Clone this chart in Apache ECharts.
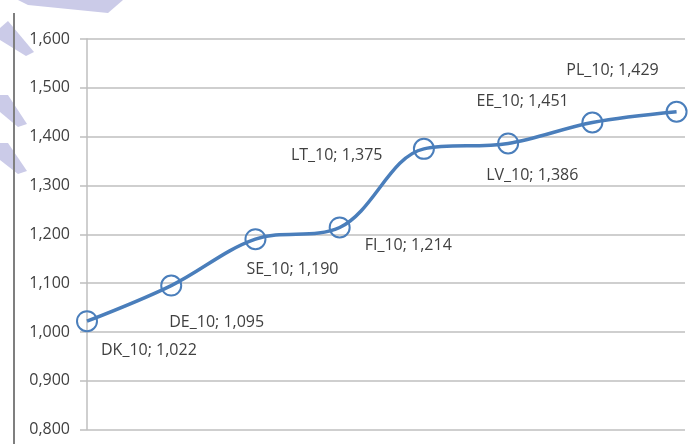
<!DOCTYPE html>
<html>
<head>
<meta charset="utf-8">
<script src="https://cdn.jsdelivr.net/npm/echarts@6/dist/echarts.min.js"></script>
<style>html,body{margin:0;padding:0;background:#fff;}#c{width:688px;height:444px;}</style>
</head>
<body>
<div id="c"></div>
<script>
// Data
const categories = ['DK_10', 'DE_10', 'SE_10', 'FI_10', 'LT_10', 'LV_10', 'PL_10', 'EE_10'];
const values = [1.022, 1.095, 1.190, 1.214, 1.375, 1.386, 1.429, 1.451];
const yTicks = [0.8, 0.9, 1.0, 1.1, 1.2, 1.3, 1.4, 1.5, 1.6];

// Label placement (pixel offsets from each point)
const labelOffsets = [[15, 30], [-1, 38], [-8, 31], [26, 19], [-132, 8], [-21, 33], [-25, -51], [-199, -9]];

const fmt = v => v.toFixed(3).replace('.', ',');
const FONT = 'Open Sans';
const TXT = '#404040';
const BLUE = '#4a7ebb';
const GRID = '#bfbfbf';
const WM = '#cbcbe8';

const seriesData = values.map((v, i) => ({
  value: [i, v],
  label: {
    position: [labelOffsets[i][0] + 10, labelOffsets[i][1] + 10]
  }
}));

const chart = echarts.init(document.getElementById('c'), null, {renderer: 'canvas'});
chart.setOption({
  animation: false,
  backgroundColor: '#fff',
  grid: {left: 87, right: 3, top: 39, bottom: 14.4, containLabel: false},
  xAxis: {
    type: 'value', min: 0, max: 7.1,
    axisLine: {show: false}, axisTick: {show: false}, axisLabel: {show: false}, splitLine: {show: false}
  },
  yAxis: {
    type: 'value', min: yTicks[0], max: yTicks[yTicks.length - 1], interval: 0.1,
    axisLine: {show: true, lineStyle: {color: GRID, width: 1.5}},
    axisTick: {show: true, length: 7, lineStyle: {color: GRID, width: 1.5}},
    splitLine: {show: true, lineStyle: {color: GRID, width: 1.5}},
    axisLabel: {
      margin: 17, color: TXT, fontFamily: FONT, fontSize: 16,
      formatter: v => fmt(v)
    }
  },
  graphic: [
    {type: 'polygon', z: -1, shape: {points: [[18, 0], [123, 0], [108, 13], [28, 5]]}, style: {fill: WM}},
    {type: 'polygon', z: -1, shape: {points: [[0, 28], [8, 21], [34, 52], [26, 56], [0, 40]]}, style: {fill: WM}},
    {type: 'polygon', z: -1, shape: {points: [[0, 95], [8, 95], [27, 124], [18, 127], [0, 112]]}, style: {fill: WM}},
    {type: 'polygon', z: -1, shape: {points: [[0, 143], [8, 143], [27, 171], [18, 174], [0, 160]]}, style: {fill: WM}},
    {type: 'line', z: 10, shape: {x1: 14, y1: 13, x2: 14, y2: 444}, style: {stroke: '#7f7f7f', lineWidth: 2}}
  ],
  series: [{
    type: 'line',
    data: seriesData,
    smooth: 0.35,
    symbol: 'circle',
    symbolSize: 20,
    lineStyle: {color: BLUE, width: 3.5},
    itemStyle: {color: 'rgba(255,255,255,0)', borderColor: BLUE, borderWidth: 2},
    label: {
      show: true, align: 'left', verticalAlign: 'middle',
      color: TXT, fontFamily: FONT, fontSize: 16,
      formatter: p => categories[p.dataIndex] + '; ' + fmt(p.value[1])
    }
  }]
});
</script>
</body>
</html>
